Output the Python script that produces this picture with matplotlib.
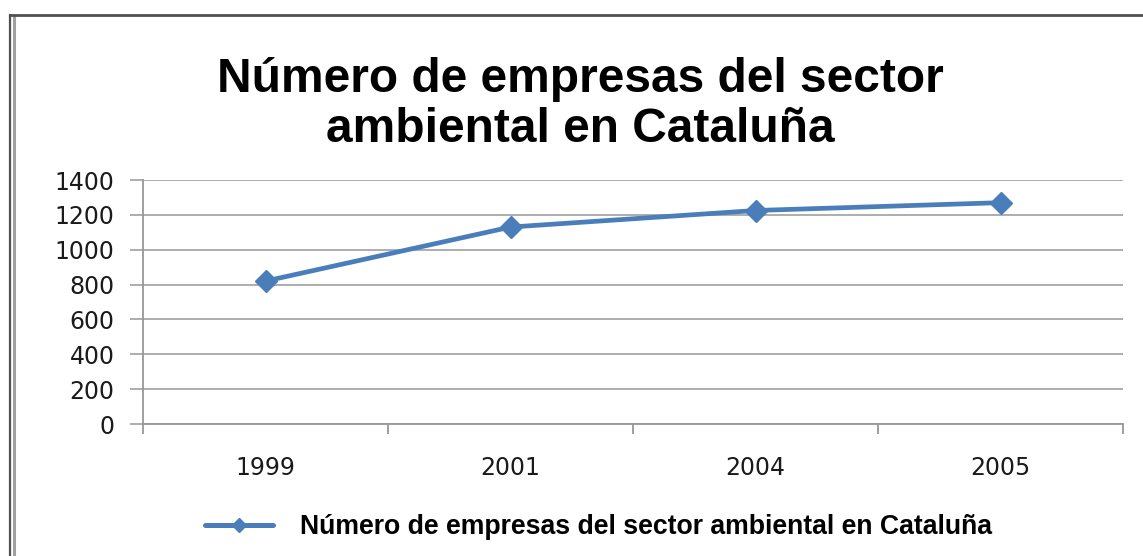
import matplotlib
matplotlib.use("Agg")
import matplotlib.pyplot as plt
from matplotlib.lines import Line2D
from matplotlib.ticker import FixedLocator

years = ["1999", "2001", "2004", "2005"]
empresas = [820, 1130, 1225, 1270]
y_ticks = [0, 200, 400, 600, 800, 1000, 1200, 1400]
title = "Número de empresas del sector\nambiental en Cataluña"
series_name = "Número de empresas del sector ambiental en Cataluña"

W, H = 1143, 556
fig = plt.figure(figsize=(W / 100, H / 100), dpi=100)
fig.patch.set_facecolor("white")

ax = fig.add_axes([143 / W, 1 - 424 / H, (1123 - 143) / W, (424 - 180) / H])
x = list(range(len(years)))
color = "#4A7EBB"
grey = "#979797"
ax.plot(x, empresas, color=color, lw=3.4, marker="D", ms=11,
        markerfacecolor=color, markeredgecolor=color,
        solid_capstyle="round", zorder=3, clip_on=False)

ax.set_xlim(-0.5, len(years) - 0.5)
ax.set_ylim(0, 1400)
ax.set_yticks(y_ticks)
ax.set_yticklabels([str(v) for v in y_ticks])
ax.yaxis.grid(True, color=grey, lw=1.1)
ax.set_axisbelow(True)

ax.set_xticks(x)
ax.set_xticklabels(years)
ax.xaxis.set_minor_locator(FixedLocator([i - 0.5 for i in range(len(years) + 1)]))
ax.tick_params(axis="x", which="major", length=0, pad=23, labelsize=17, labelcolor="#1a1a1a")
ax.tick_params(axis="x", which="minor", length=7, color=grey, width=1.3)
ax.tick_params(axis="y", length=9.4, color=grey, width=1.1, pad=11,
               labelsize=17, labelcolor="#1a1a1a")
for lbl in ax.get_xticklabels() + ax.get_yticklabels():
    lbl.set_family("DejaVu Sans")

for s in ["top", "right"]:
    ax.spines[s].set_visible(False)
ax.spines["left"].set_color(grey)
ax.spines["bottom"].set_color(grey)
ax.spines["left"].set_linewidth(1.3)
ax.spines["bottom"].set_linewidth(1.3)

fig.text(580 / W, 1 - 57 / H, title, ha="center", va="top",
         fontsize=34.5, fontweight="bold", family="Liberation Sans",
         linespacing=1.13)

# legend with a small marker, as in the reference
handle = Line2D([], [], color=color, lw=3.6, marker="D", ms=7,
                markerfacecolor=color, markeredgecolor=color, solid_capstyle="round")
fig.legend(handles=[handle], labels=[series_name], loc="center left",
           bbox_to_anchor=(181 / W, 1 - 527 / H),
           frameon=False, handlelength=2.55, handletextpad=1.0,
           prop={"family": "Liberation Sans", "weight": "bold", "size": 19.2})

# outer double frame
fig.add_artist(Line2D([10 / W, 10 / W], [0, 1 - 15 / H], transform=fig.transFigure,
                      color="#505050", lw=1.6))
fig.add_artist(Line2D([14 / W, 14 / W], [0, 1 - 17 / H], transform=fig.transFigure,
                      color="#A0A0A0", lw=2.2))
fig.add_artist(Line2D([10 / W, 1], [1 - 15 / H, 1 - 15 / H], transform=fig.transFigure,
                      color="#505050", lw=2.0))

fig.savefig("out.png", dpi=100, facecolor="white")
